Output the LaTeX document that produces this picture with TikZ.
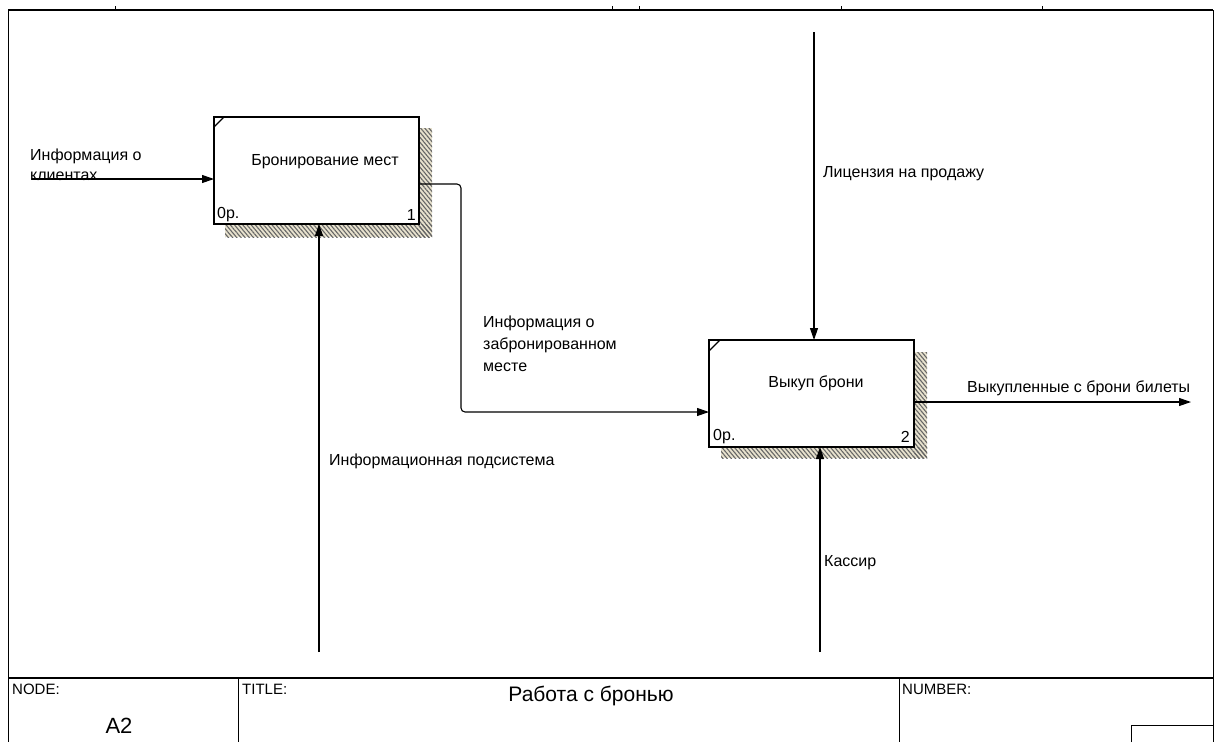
\documentclass[tikz,border=0pt]{standalone}
\usepackage{fontspec}
\setmainfont{Liberation Sans}
\usetikzlibrary{arrows.meta,patterns.meta}

\begin{document}
\begin{tikzpicture}[x=1pt,y=-1pt,
  lbl/.style={font=\fontsize{16}{21}\selectfont, inner sep=0pt, anchor=west, align=left},
  frm/.style={font=\fontsize{15}{18}\selectfont, inner sep=0pt, anchor=west},
  act/.style={draw=black, line width=2pt, fill=white, minimum width=205pt,
              minimum height=107pt, inner sep=0pt, outer sep=0pt},
  shd/.style={fill={rgb,255:red,232;green,226;blue,206}, draw=none},
  shdpat/.style={pattern={Lines[angle=-50,distance=3.2pt,line width=1.1pt]},
                 pattern color=black!60},
  flow/.style={line width=1.1pt, -{Triangle[length=12pt,width=8pt]}},
  num/.style={font=\fontsize{16}{18}\selectfont, inner sep=0pt},
]
\useasboundingbox (0,0) rectangle (1215,742);

% --- drawing frame ---
\draw[line width=1.5pt] (8,10) -- (1213,10);
\draw[line width=0.9pt] (8,10) -- (8,742);
\draw[line width=0.9pt] (1213,10) -- (1213,742);
\foreach \tx in {115,612,639,841,1042} \draw[line width=0.8pt] (\tx,6) -- (\tx,10);
\draw[line width=1.2pt] (8,678) -- (1213,678);
\draw[line width=0.9pt] (238,678) -- (238,742);
\draw[line width=0.9pt] (899,678) -- (899,742);
\draw[line width=0.9pt] (1131,742) -- (1131,725) -- (1213,725);

\node[frm] (nodelbl) at (12,689) {NODE:};
\node[frm] (titlelbl) at (242,689) {TITLE:};
\node[frm] (numlbl) at (902,689) {NUMBER:};
\node[font=\fontsize{22}{24}\selectfont, inner sep=0pt] (nodeno) at (119,726) {A2};
\node[font=\fontsize{21}{24}\selectfont, inner sep=0pt] (title) at (591,696) {Работа с бронью};

% --- box shadows ---
\fill[shd] (419,128) rectangle (432,237);
\fill[shd] (225,224) rectangle (432,237);
\fill[shdpat] (419,128) rectangle (432,237);
\fill[shdpat] (225,224) rectangle (432,237);
\fill[shd] (914,352) rectangle (927,458);
\fill[shd] (721,447) rectangle (927,458);
\fill[shdpat] (914,352) rectangle (927,458);
\fill[shdpat] (721,447) rectangle (927,458);

% --- activity boxes ---
\node[act] (b1) at (316.5,170.5) {};
\node[act] (b2) at (811.5,393.5) {};
\draw[line width=1.2pt] (214,127) -- (224,117);
\draw[line width=1.2pt] (709,351) -- (720,340);

\node[lbl, anchor=center] (t1) at (325,162) {Бронирование мест};
\node[lbl, anchor=center] (t2) at (816,383) {Выкуп брони};
\node[num, anchor=west] (c1) at (217,215) {0р.};
\node[num, anchor=east] (n1) at (416,215) {1};
\node[num, anchor=west] (c2) at (713,437) {0р.};
\node[num, anchor=east] (n2) at (910,437) {2};

% --- connector end points ---
\coordinate (in1) at (32,179);
\coordinate (y184) at (0,184);
\coordinate (y412) at (0,412);
\coordinate (ctl2) at (814,32);
\coordinate (mech1) at (319,652);
\coordinate (mech2) at (820,652);
\coordinate (out2) at (1191,402);

% --- labels ---
\node[lbl, font=\fontsize{16}{20}\selectfont] (lin1) at (30,165) {Информация о\\клиентах};
\node[lbl, font=\fontsize{16}{22}\selectfont] (lmid) at (483,344) {Информация о\\забронированном\\месте};
\node[lbl] (lctl) at (823,174) {Лицензия на продажу};
\node[lbl] (lmech1) at (329,461) {Информационная подсистема};
\node[lbl] (lmech2) at (824,563) {Кассир};
\node[lbl] (lout) at (967,388) {Выкупленные с брони билеты};

% --- connectors ---
\draw[flow] (in1) -- (in1 -| b1.west);
\draw[flow, rounded corners=4pt] (b1.east |- y184) -- (461,184) -- (461,412) -- (b2.west |- y412);
\draw[flow] (ctl2) -- (ctl2 |- b2.north);
\draw[flow] (mech1) -- (mech1 |- b1.south);
\draw[flow] (mech2) -- (mech2 |- b2.south);
\draw[flow] (out2 -| b2.east) -- (out2);
\end{tikzpicture}
\end{document}
